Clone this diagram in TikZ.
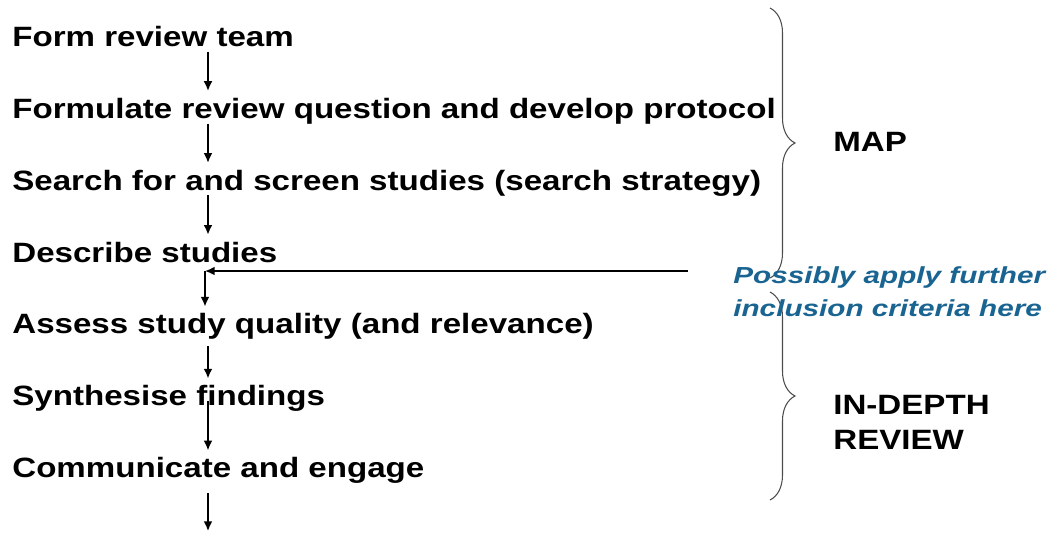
\documentclass[tikz,border=0pt]{standalone}
\usepackage{fontspec}
\setmainfont{Liberation Sans}
\newfontfamily\widesans[FakeStretch=1.185]{Liberation Sans}
\newfontfamily\notesans[FakeStretch=1.28]{Liberation Sans}
\usepackage{xcolor}
\usetikzlibrary{arrows.meta,positioning,decorations.pathreplacing}

\definecolor{noteblue}{RGB}{25,100,145}

\begin{document}
\begin{tikzpicture}[x=0.02cm, y=-0.02cm, node distance=0.884cm]
        \tikzstyle{stepbox} = [anchor=north west, inner sep=0pt, text height=0.44cm, text depth=0.1cm,
            font=\widesans\fontsize{15.9pt}{19pt}\selectfont\bfseries]
        \tikzstyle{side} = [anchor=west, inner sep=0pt, align=left,
            font=\widesans\fontsize{15.9pt}{19.8pt}\selectfont\bfseries]
        \tikzstyle{line} = [draw, line width=0.9pt, shorten >=0.1cm, -{Latex[length=5.5pt,width=5pt]}]
        \tikzstyle{curly} = [draw=black!70, line width=0.6pt, decorate,
            decoration={brace, amplitude=0.5cm}]

        \useasboundingbox (0,0) rectangle (1052,532);

        % review steps, top to bottom
        \node [stepbox] (team) at (12,24) {Form review team};
        \node [stepbox, below=of team.south west, anchor=north west] (protocol) {Formulate review question and develop protocol};
        \node [stepbox, below=of protocol.south west, anchor=north west] (search) {Search for and screen studies (search strategy)};
        \node [stepbox, below=of search.south west, anchor=north west] (describe) {Describe studies};
        \node [stepbox, below=of describe.south west, anchor=north west] (assess) {Assess study quality (and relevance)};
        \node [stepbox, below=of assess.south west, anchor=north west] (synth) {Synthesise findings};
        \node [stepbox, below=of synth.south west, anchor=north west] (engage) {Communicate and engage};

        \coordinate (ax) at (208,0);
        \coordinate (out) at (208,531);
        \coordinate (feed) at (688,271);
        \coordinate (turn) at (205,271);

        \path [line] (team.south -| ax) -- (protocol.north -| ax);
        \path [line] (protocol.south -| ax) -- (search.north -| ax);
        \path [line] (search.south -| ax) -- (describe.north -| ax);
        \path [line, shorten >=0pt] (feed) -- (turn);
        \path [line] (turn) -- (assess.north -| turn);
        \path [line, shorten <=0.14cm] (assess.south -| ax) -- (synth.north -| ax);
        \path [line] ([yshift=0.2cm]synth.south -| ax) -- (engage.north -| ax);
        \path [line, shorten >=0pt] ([yshift=-0.2cm]engage.south -| ax) -- (out);

        % the two stages
        \draw [curly] (770,8) -- (770,278);
        \draw [curly] (770,292) -- (770,500);
        \node [side] (map) at (833,142) {MAP};
        \node [side] (depth) at (833,422) {IN-DEPTH\\REVIEW};

        \node [anchor=west, inner sep=0pt, align=left, text=noteblue,
            font=\notesans\fontsize{13.2pt}{18.7pt}\selectfont\bfseries\itshape] (note) at (733,292)
            {Possibly apply further\\inclusion criteria here};
      \end{tikzpicture}
\end{document}
